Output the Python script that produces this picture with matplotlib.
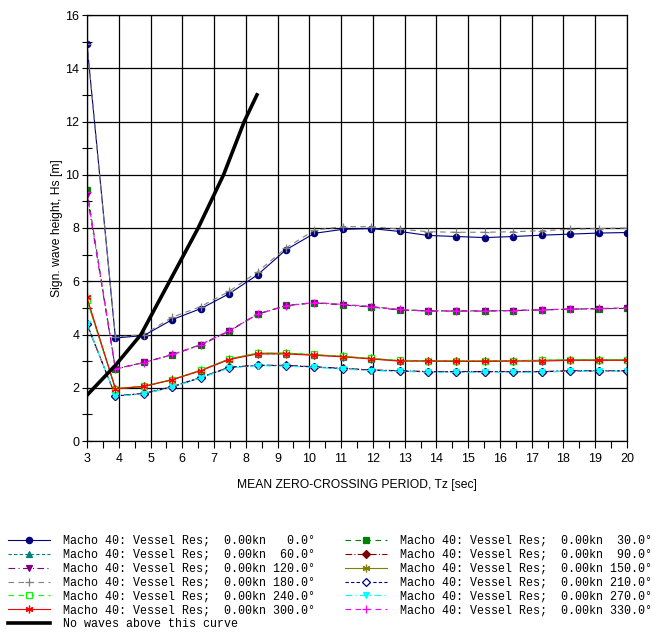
import matplotlib
matplotlib.use("Agg")
import matplotlib.pyplot as plt
from matplotlib.ticker import MultipleLocator

# ---------------- data ----------------
tz = [3.0, 3.895, 4.789, 5.684, 6.579, 7.474, 8.368, 9.263, 10.158, 11.053,
      11.947, 12.842, 13.737, 14.632, 15.526, 16.421, 17.316, 18.211, 19.105, 20.0]

hs_000 = [14.9, 3.87, 3.96, 4.56, 4.97, 5.53, 6.24, 7.18, 7.80, 7.95,
          7.98, 7.87, 7.72, 7.68, 7.64, 7.68, 7.73, 7.77, 7.81, 7.83]
hs_030 = [9.43, 2.71, 2.95, 3.24, 3.62, 4.14, 4.77, 5.09, 5.20, 5.12,
          5.05, 4.93, 4.89, 4.89, 4.89, 4.90, 4.93, 4.95, 4.97, 4.98]
hs_060 = [5.34, 1.96, 2.05, 2.30, 2.64, 3.07, 3.28, 3.28, 3.23, 3.17,
          3.09, 3.01, 3.01, 3.00, 3.00, 3.01, 3.02, 3.04, 3.04, 3.04]
hs_090 = [4.38, 1.70, 1.79, 2.04, 2.39, 2.77, 2.85, 2.84, 2.79, 2.73,
          2.67, 2.64, 2.61, 2.61, 2.61, 2.61, 2.61, 2.64, 2.64, 2.64]
hs_120 = [9.25, 2.70, 2.95, 3.24, 3.60, 4.12, 4.76, 5.08, 5.19, 5.11,
          5.03, 4.92, 4.88, 4.88, 4.88, 4.90, 4.92, 4.95, 4.97, 4.98]
hs_150 = [5.30, 1.97, 2.05, 2.31, 2.66, 3.08, 3.30, 3.30, 3.24, 3.18,
          3.10, 3.02, 3.02, 3.01, 3.01, 3.02, 3.03, 3.05, 3.05, 3.05]
hs_180 = [14.9, 3.90, 4.00, 4.65, 5.05, 5.62, 6.35, 7.25, 7.92, 8.05,
          8.05, 7.96, 7.86, 7.84, 7.84, 7.86, 7.90, 7.95, 7.98, 8.00]
hs_210 = [4.40, 1.69, 1.78, 2.03, 2.38, 2.76, 2.84, 2.83, 2.78, 2.72,
          2.66, 2.63, 2.60, 2.60, 2.60, 2.60, 2.60, 2.63, 2.63, 2.63]
hs_240 = [5.30, 1.97, 2.06, 2.30, 2.65, 3.08, 3.30, 3.30, 3.25, 3.18,
          3.10, 3.03, 3.02, 3.01, 3.01, 3.02, 3.03, 3.06, 3.06, 3.06]
hs_270 = [4.41, 1.68, 1.77, 2.02, 2.37, 2.74, 2.83, 2.81, 2.77, 2.70,
          2.64, 2.62, 2.58, 2.58, 2.58, 2.58, 2.58, 2.62, 2.62, 2.62]
hs_300 = [5.39, 1.96, 2.05, 2.30, 2.64, 3.06, 3.27, 3.27, 3.22, 3.16,
          3.08, 3.00, 3.00, 2.99, 2.99, 3.00, 3.00, 3.03, 3.03, 3.03]
hs_330 = [9.35, 2.70, 2.94, 3.25, 3.62, 4.14, 4.76, 5.08, 5.20, 5.13,
          5.05, 4.94, 4.89, 4.88, 4.88, 4.90, 4.93, 4.96, 4.98, 5.00]

headings = [0, 30, 60, 90, 120, 150, 180, 210, 240, 270, 300, 330]
series = [hs_000, hs_030, hs_060, hs_090, hs_120, hs_150,
          hs_180, hs_210, hs_240, hs_270, hs_300, hs_330]

limit_tz = [3.0, 3.9, 4.7, 5.6, 6.5, 7.3, 7.95, 8.35]
limit_hs = [1.72, 2.85, 4.0, 6.0, 8.0, 10.0, 12.0, 13.0]

x_ticks = list(range(3, 21))
y_ticks = [0, 2, 4, 6, 8, 10, 12, 14, 16]

# ---------------- styles ----------------
styles = {
    0:   dict(color="#000080", ls="-",  marker="o", mfc="#000080"),
    30:  dict(color="#008000", ls=(0, (5, 4)), marker="s", mfc="#008000"),
    60:  dict(color="#008080", ls=(0, (3, 2)), marker="^", mfc="#008080"),
    90:  dict(color="#800000", ls=(0, (6, 2, 1, 2)), marker="D", mfc="#800000"),
    120: dict(color="#800080", ls=(0, (6, 3, 1, 3)), marker="v", mfc="#800080"),
    150: dict(color="#808000", ls="-",  marker=(6, 2, 0), mfc="#808000"),
    180: dict(color="#808080", ls=(0, (5, 4)), marker="+", mfc="#808080"),
    210: dict(color="#000080", ls=(0, (3, 2)), marker="D", mfc="white"),
    240: dict(color="#00ff00", ls=(0, (5, 4)), marker="s", mfc="white"),
    270: dict(color="#00ffff", ls=(0, (6, 3, 1, 3)), marker="v", mfc="#00ffff"),
    300: dict(color="#ff0000", ls="-",  marker=(6, 2, 0), mfc="#ff0000"),
    330: dict(color="#ff00ff", ls=(0, (5, 4)), marker="+", mfc="#ff00ff"),
}
msize = {"o": 4.5, "s": 4, "^": 4.5, "D": 3.6, "v": 4.5, "+": 5.5}

plt.rcParams["font.family"] = ["Liberation Sans", "DejaVu Sans"]

fig = plt.figure(figsize=(6.54, 6.33), dpi=100)
ax = fig.add_axes([87 / 654, 1 - 441 / 633, 540 / 654, 426 / 633])

handles = {}
for h, ys in zip(headings, series):
    st = styles[h]
    m = st["marker"]
    ms = msize.get(m, 5.5) if isinstance(m, str) else 5.5
    line, = ax.plot(tz, ys, color=st["color"], linestyle=st["ls"], lw=0.8,
                    marker=m, markersize=ms, markerfacecolor=st["mfc"],
                    markeredgecolor=st["color"], markeredgewidth=0.9,
                    label=f"Macho 40: Vessel Res;  0.00kn {h:5.1f}\u00b0")
    handles[h] = line

lim, = ax.plot(limit_tz, limit_hs, color="black", lw=2.6,
               label="No waves above this curve")

ax.set_xlim(3, 20)
ax.set_ylim(0, 16)
ax.set_xticks(x_ticks)
ax.set_yticks(y_ticks)
ax.xaxis.set_minor_locator(MultipleLocator(0.5))
ax.yaxis.set_minor_locator(MultipleLocator(1))
ax.tick_params(axis="x", which="both", direction="out", length=5, width=0.8,
               labelsize=9, pad=4)
ax.tick_params(axis="y", which="both", direction="inout", length=7, width=0.8,
               labelsize=9, pad=2)
ax.grid(True, which="major", color="black", lw=0.9)
for s in ax.spines.values():
    s.set_color("black")
    s.set_linewidth(0.9)

ax.set_xlabel("MEAN ZERO-CROSSING PERIOD, Tz [sec]", fontsize=8.7, labelpad=10)
ax.set_ylabel("Sign. wave height, Hs [m]", fontsize=8.7, labelpad=2)

order = [0, 60, 120, 180, 240, 300]
col2 = [30, 90, 150, 210, 270, 330]
hl = [handles[h] for h in order] + [lim] + [handles[h] for h in col2]
labels = [l.get_label() for l in hl]
fig.legend(hl, labels, loc="upper left", bbox_to_anchor=(8 / 654, 1 - 535 / 633),
           ncol=2, frameon=False, borderpad=0, borderaxespad=0,
           prop={"family": "Liberation Mono", "size": 8.4},
           handlelength=3.6, handletextpad=1.1, columnspacing=2.6,
           labelspacing=0.16)

fig.savefig("out.png", dpi=100)
